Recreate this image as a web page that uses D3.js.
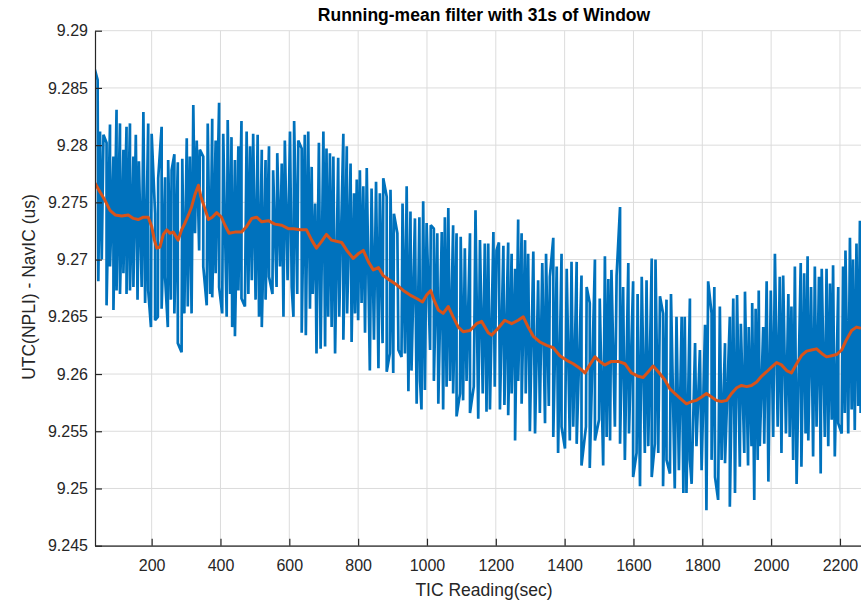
<!DOCTYPE html>
<html><head><meta charset="utf-8">
<script src="https://cdn.jsdelivr.net/npm/d3@7"></script>
<style>body{margin:0;background:#fff}svg{display:block}text{font-family:"Liberation Sans",Arial,Helvetica,sans-serif}</style>
</head><body><svg id="c" width="861" height="604"></svg>
<script>
const titleText = "Running-mean filter with 31s of Window";
const xLabel = "TIC Reading(sec)";
const yLabel = "UTC(NPLI) - NavIC (us)";
const xTicks = [200,400,600,800,1000,1200,1400,1600,1800,2000,2200];
const yTicks = [9.245,9.25,9.255,9.26,9.265,9.27,9.275,9.28,9.285,9.29];
const yTickLabels = ["9.245","9.25","9.255","9.26","9.265","9.27","9.275","9.28","9.285","9.29"];

// raw TIC readings: upper spike tips
const hiT = [35,43,50,60,69,79,89,98,108,118,127,137,147,154,163,176,190,200,210,219,229,239,248,258,266,276,289,302,311,321,331,340,350,363,376,386,396,408,421,432,442,452,461,476,486,495,508,520,531,541,553,565,578,587,602,614,626,636,645,655,665,675,686,699,708,718,728,742,757,767,778,788,796,805,815,825,839,852,863,873,883,894,904,914,929,941,952,965,978,989,999,1011,1020,1030,1043,1052,1062,1076,1086,1098,1110,1125,1141,1154,1168,1178,1193,1202,1209,1222,1236,1246,1256,1265,1275,1285,1294,1309,1323,1335,1346,1357,1367,1377,1391,1406,1420,1435,1449,1464,1473,1488,1502,1517,1527,1536,1551,1561,1570,1585,1599,1612,1624,1638,1653,1664,1677,1686,1696,1709,1725,1740,1749,1764,1779,1793,1808,1817,1827,1835,1851,1866,1880,1890,1901,1912,1924,1935,1945,1955,1964,1977,1987,1999,2011,2025,2035,2050,2059,2069,2086,2096,2106,2116,2127,2139,2147,2161,2171,2180,2195,2209,2216,2229,2238,2248,2258];
const hiV = [9.2866,9.2857,9.2812,9.2809,9.2802,9.2818,9.2790,9.2831,9.2819,9.2796,9.2816,9.2819,9.2790,9.2809,9.2786,9.2829,9.2819,9.2810,9.2740,9.2771,9.2816,9.2772,9.2787,9.2778,9.2792,9.2785,9.2788,9.2806,9.2790,9.2835,9.2804,9.2796,9.2790,9.2819,9.2823,9.2804,9.2837,9.2810,9.2822,9.2807,9.2787,9.2799,9.2821,9.2812,9.2799,9.2810,9.2809,9.2796,9.2787,9.2799,9.2778,9.2793,9.2784,9.2804,9.2812,9.2821,9.2804,9.2797,9.2809,9.2812,9.2781,9.2749,9.2802,9.2812,9.2797,9.2793,9.2790,9.2789,9.2810,9.2799,9.2784,9.2758,9.2770,9.2778,9.2764,9.2780,9.2762,9.2768,9.2758,9.2771,9.2755,9.2761,9.2740,9.2723,9.2749,9.2764,9.2742,9.2736,9.2737,9.2751,9.2732,9.2730,9.2727,9.2723,9.2724,9.2737,9.2745,9.2730,9.2723,9.2720,9.2710,9.2723,9.2743,9.2717,9.2714,9.2714,9.2724,9.2708,9.2715,9.2712,9.2715,9.2705,9.2692,9.2735,9.2723,9.2717,9.2705,9.2707,9.2682,9.2697,9.2705,9.2685,9.2719,9.2694,9.2705,9.2692,9.2698,9.2698,9.2686,9.2676,9.2662,9.2700,9.2666,9.2703,9.2683,9.2691,9.2686,9.2746,9.2676,9.2697,9.2681,9.2670,9.2685,9.2682,9.2701,9.2700,9.2668,9.2653,9.2665,9.2670,9.2650,9.2650,9.2650,9.2666,9.2627,9.2621,9.2643,9.2681,9.2653,9.2676,9.2659,9.2627,9.2650,9.2666,9.2669,9.2644,9.2672,9.2641,9.2662,9.2657,9.2673,9.2641,9.2681,9.2673,9.2705,9.2685,9.2686,9.2670,9.2659,9.2694,9.2697,9.2688,9.2703,9.2676,9.2694,9.2685,9.2692,9.2692,9.2679,9.2695,9.2676,9.2694,9.2708,9.2719,9.2700,9.2714,9.2734];

// raw TIC readings: lower spike tips
const loT = [45,55,69,79,89,98,108,118,127,137,147,159,171,181,190,198,210,218,229,239,247,256,266,276,287,295,305,316,326,338,350,360,370,376,386,396,405,418,428,434,442,452,461,471,481,491,502,512,520,531,541,551,563,573,583,595,607,612,623,636,648,660,668,679,691,704,713,723,733,745,757,768,781,791,800,810,820,834,846,859,871,883,892,902,917,926,936,946,955,970,980,984,994,1009,1020,1033,1047,1057,1067,1076,1086,1096,1105,1115,1125,1136,1149,1162,1173,1183,1197,1212,1225,1236,1246,1256,1265,1275,1287,1299,1314,1328,1343,1354,1367,1381,1391,1401,1415,1425,1435,1449,1462,1473,1488,1500,1512,1522,1532,1546,1561,1575,1587,1599,1609,1619,1633,1643,1653,1662,1672,1686,1696,1706,1720,1732,1745,1754,1764,1769,1783,1798,1812,1827,1837,1846,1856,1866,1880,1895,1909,1922,1933,1943,1951,1961,1967,1980,1992,2006,2019,2030,2043,2054,2064,2074,2088,2100,2108,2122,2132,2144,2156,2166,2176,2185,2195,2205,2214,2224,2234,2243,2253,2260];
const loV = [9.2681,9.2700,9.2660,9.2694,9.2656,9.2673,9.2670,9.2688,9.2670,9.2673,9.2676,9.2665,9.2676,9.2662,9.2673,9.2641,9.2647,9.2650,9.2657,9.2685,9.2641,9.2665,9.2653,9.2627,9.2619,9.2653,9.2659,9.2653,9.2723,9.2708,9.2694,9.2660,9.2670,9.2667,9.2688,9.2676,9.2653,9.2650,9.2670,9.2641,9.2633,9.2673,9.2666,9.2659,9.2670,9.2682,9.2665,9.2650,9.2641,9.2665,9.2685,9.2670,9.2676,9.2694,9.2650,9.2682,9.2676,9.2650,9.2670,9.2636,9.2634,9.2657,9.2670,9.2618,9.2622,9.2624,9.2650,9.2641,9.2618,9.2650,9.2630,9.2653,9.2628,9.2653,9.2647,9.2662,9.2636,9.2603,9.2630,9.2605,9.2627,9.2602,9.2618,9.2601,9.2621,9.2615,9.2618,9.2585,9.2603,9.2574,9.2594,9.2569,9.2586,9.2621,9.2594,9.2574,9.2569,9.2589,9.2594,9.2583,9.2563,9.2583,9.2577,9.2594,9.2566,9.2589,9.2561,9.2583,9.2567,9.2569,9.2589,9.2569,9.2573,9.2564,9.2583,9.2542,9.2594,9.2574,9.2583,9.2550,9.2548,9.2566,9.2557,9.2572,9.2545,9.2531,9.2554,9.2535,9.2542,9.2554,9.2539,9.2520,9.2554,9.2518,9.2542,9.2560,9.2520,9.2545,9.2542,9.2554,9.2539,9.2525,9.2548,9.2510,9.2531,9.2502,9.2531,9.2537,9.2510,9.2539,9.2531,9.2502,9.2525,9.2513,9.2500,9.2516,9.2496,9.2496,9.2525,9.2504,9.2537,9.2516,9.2481,9.2525,9.2510,9.2490,9.2525,9.2522,9.2484,9.2496,9.2519,9.2531,9.2520,9.2537,9.2490,9.2525,9.2537,9.2539,9.2506,9.2545,9.2554,9.2531,9.2548,9.2545,9.2525,9.2504,9.2519,9.2548,9.2542,9.2528,9.2554,9.2513,9.2545,9.2537,9.2560,9.2528,9.2557,9.2548,9.2566,9.2548,9.2569,9.2551,9.2572,9.2566];

// running mean (31 s window)
const meanT = [35,50,64,79,94,113,132,147,161,176,190,200,208,215,224,234,244,253,263,277,287,297,307,316,326,336,343,353,365,376,389,403,413,425,442,461,476,491,505,520,539,558,578,597,612,631,650,665,679,694,708,723,737,752,767,786,800,815,830,844,859,873,892,912,931,951,970,987,999,1011,1020,1033,1047,1062,1076,1091,1105,1125,1144,1159,1178,1188,1207,1226,1246,1265,1280,1294,1309,1328,1348,1367,1386,1406,1425,1444,1459,1473,1488,1502,1517,1536,1556,1575,1594,1614,1628,1643,1657,1672,1691,1706,1720,1735,1754,1769,1783,1798,1812,1827,1841,1856,1871,1885,1900,1914,1929,1943,1958,1972,1987,2001,2016,2030,2045,2059,2074,2088,2103,2117,2132,2147,2161,2176,2190,2205,2219,2234,2248,2261];
const meanV = [9.2767,9.2759,9.2752,9.2743,9.2739,9.2738,9.2739,9.2736,9.2735,9.2737,9.2737,9.2729,9.2717,9.2710,9.2711,9.2722,9.2726,9.2723,9.2724,9.2717,9.2726,9.2732,9.2739,9.2746,9.2757,9.2765,9.2755,9.2746,9.2735,9.2737,9.2741,9.2737,9.2730,9.2723,9.2724,9.2724,9.2729,9.2736,9.2737,9.2733,9.2734,9.2731,9.2730,9.2727,9.2727,9.2726,9.2726,9.2717,9.2710,9.2716,9.2722,9.2717,9.2716,9.2715,9.2708,9.2701,9.2705,9.2708,9.2698,9.2691,9.2693,9.2686,9.2682,9.2678,9.2673,9.2669,9.2666,9.2663,9.2669,9.2673,9.2665,9.2656,9.2653,9.2659,9.2650,9.2641,9.2637,9.2638,9.2644,9.2646,9.2636,9.2634,9.2640,9.2647,9.2644,9.2647,9.2650,9.2641,9.2633,9.2628,9.2625,9.2623,9.2616,9.2612,9.2609,9.2605,9.2601,9.2608,9.2615,9.2611,9.2608,9.2611,9.2611,9.2609,9.2601,9.2598,9.2597,9.2602,9.2607,9.2602,9.2595,9.2587,9.2583,9.2579,9.2574,9.2576,9.2577,9.2580,9.2583,9.2580,9.2577,9.2576,9.2577,9.2583,9.2588,9.2590,9.2589,9.2590,9.2593,9.2598,9.2602,9.2606,9.2610,9.2608,9.2603,9.2601,9.2609,9.2616,9.2620,9.2621,9.2622,9.2618,9.2615,9.2616,9.2617,9.2621,9.2630,9.2638,9.2641,9.2640];

const W = 861, H = 604;
const L = 95, R = 873, T = 30.7, B = 545.7;
const axisColor = "#262626", gridColor = "#dcdcdc";
const blue = "#0072BD", orange = "#D95319";

const svg = d3.select("#c");
svg.append("rect").attr("width", W).attr("height", H).attr("fill", "#fff");

const x = d3.scaleLinear().domain([35.4, 2296]).range([L, R]);
const y = d3.scaleLinear().domain([9.245, 9.29]).range([B, T]);

svg.append("defs").append("clipPath").attr("id", "clip")
  .append("rect").attr("x", L).attr("y", T).attr("width", R - L).attr("height", B - T);

// grid
const grid = svg.append("g");
grid.selectAll(".vg").data(xTicks).join("line")
  .attr("x1", d => x(d)).attr("x2", d => x(d)).attr("y1", T).attr("y2", B)
  .attr("stroke", gridColor).attr("stroke-width", 1);
grid.selectAll(".hg").data(yTicks).join("line")
  .attr("x1", L).attr("x2", R).attr("y1", d => y(d)).attr("y2", d => y(d))
  .attr("stroke", gridColor).attr("stroke-width", 1);

// raw series: merge upper and lower tips in time order
const raw = hiT.map((t, i) => ({t, v: hiV[i], k: 0}))
  .concat(loT.map((t, i) => ({t, v: loV[i], k: 1})))
  .sort((a, b) => a.t - b.t || a.k - b.k);
const mean = meanT.map((t, i) => ({t, v: meanV[i]}));

const line = d3.line().x(d => x(d.t)).y(d => y(d.v));
const plot = svg.append("g").attr("clip-path", "url(#clip)");
plot.append("path").datum(raw).attr("d", line)
  .attr("fill", "none").attr("stroke", blue).attr("stroke-width", 2.7).attr("stroke-linejoin", "bevel");
plot.append("path").datum(mean).attr("d", line)
  .attr("fill", "none").attr("stroke", orange).attr("stroke-width", 3).attr("stroke-linejoin", "round");

// axes
const xAxis = d3.axisBottom(x).tickValues(xTicks).tickSizeInner(-7).tickSizeOuter(0).tickPadding(14).tickFormat(d3.format("d"));
const gx = svg.append("g").attr("transform", `translate(0,${B})`).call(xAxis);
const yAxis = d3.axisLeft(y).tickValues(yTicks).tickSizeInner(-7).tickSizeOuter(0).tickPadding(14)
  .tickFormat((d, i) => yTickLabels[i]);
const gy = svg.append("g").attr("transform", `translate(${L},0)`).call(yAxis);
[gx, gy].forEach(g => {
  g.select(".domain").attr("stroke", axisColor).attr("stroke-width", 1.2);
  g.selectAll(".tick line").attr("stroke", axisColor).attr("stroke-width", 1.2);
  g.selectAll(".tick text").attr("fill", axisColor).attr("font-size", 16)
    .attr("font-family", '"Liberation Sans", Arial, sans-serif');
});
gy.selectAll(".tick text").attr("x", -7);
gx.selectAll(".tick text").attr("y", 14);

// labels
svg.append("text").attr("x", 484).attr("y", 20.5).attr("text-anchor", "middle")
  .attr("font-size", 17.5).attr("font-weight", "bold").attr("fill", "#000").text(titleText);
svg.append("text").attr("x", 484).attr("y", 596).attr("text-anchor", "middle")
  .attr("font-size", 17.5).attr("fill", axisColor).text(xLabel);
svg.append("text").attr("transform", "translate(35,287) rotate(-90)").attr("text-anchor", "middle")
  .attr("font-size", 17.5).attr("fill", axisColor).text(yLabel);
</script></body></html>
